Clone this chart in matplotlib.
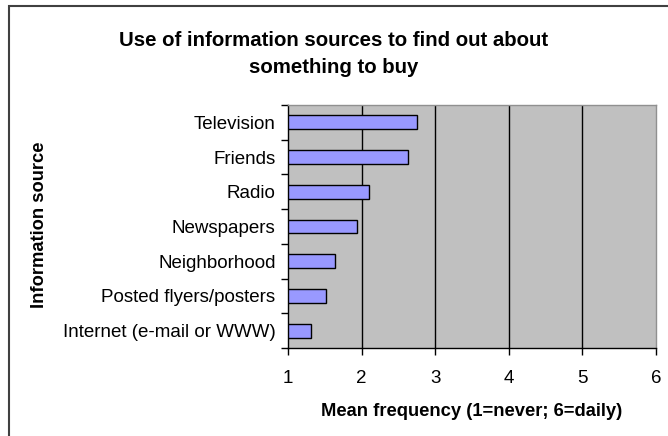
import matplotlib.pyplot as plt
from matplotlib.patches import Rectangle

plt.rcParams['font.family'] = ['Liberation Sans', 'DejaVu Sans']

sources = ["Internet (e-mail or WWW)", "Posted flyers/posters", "Neighborhood",
           "Newspapers", "Radio", "Friends", "Television"]
mean_freq = [1.31, 1.51, 1.64, 1.94, 2.10, 2.63, 2.75]
x_ticks = [1, 2, 3, 4, 5, 6]

W, H = 668, 436
fig = plt.figure(figsize=(W / 100, H / 100), dpi=100)

# chart frame (left/top edge only inside the image)
fig.patches.append(Rectangle((9 / W, -0.05), 1.2, 1 - 6 / H + 0.05,
                             transform=fig.transFigure, fill=False,
                             edgecolor='#404040', linewidth=1.5))

ax = fig.add_axes([288 / W, 1 - 348 / H, (656 - 288) / W, (348 - 105) / H])
ax.set_facecolor('#C0C0C0')

pos = list(range(len(sources)))
ax.barh(pos, [v - 1 for v in mean_freq], left=1, height=0.4,
        color='#9999FF', edgecolor='black', linewidth=1.0, zorder=3)

ax.set_xlim(1, 6)
ax.set_ylim(-0.5, len(sources) - 0.5)
ax.set_xticks(x_ticks)
ax.set_xticklabels([str(t) for t in x_ticks], fontsize=13.5)
for t in x_ticks[1:-1]:
    ax.axvline(t, color='black', linewidth=1.0, zorder=1)

# labels centred on bars, tick marks on category boundaries
ax.set_yticks(pos)
ax.set_yticklabels(sources, fontsize=13.5)
ax.tick_params(axis='y', length=0, pad=9)
ax.set_yticks([p - 0.5 for p in pos] + [len(sources) - 0.5], minor=True)
ax.tick_params(axis='y', which='minor', length=5, width=1, direction='out')
ax.tick_params(axis='x', length=5, width=1, direction='out', pad=11)

for s in ['left', 'bottom']:
    ax.spines[s].set_color('black')
    ax.spines[s].set_linewidth(1.0)
for s in ['top', 'right']:
    ax.spines[s].set_color('#909090')
    ax.spines[s].set_linewidth(1.0)

ax.set_xlabel("Mean frequency (1=never; 6=daily)", fontsize=13.2,
              fontweight='bold', labelpad=11)
fig.text(40 / W, 1 - 225 / H, "Information source", rotation=90,
         fontsize=13.2, fontweight='bold', ha='center', va='center')

fig.text(334 / W, 1 - 54 / H,
         "Use of information sources to find out about\nsomething to buy",
         fontsize=14.7, fontweight='bold', ha='center', va='center',
         linespacing=1.55)

fig.savefig("out.png", dpi=100)
